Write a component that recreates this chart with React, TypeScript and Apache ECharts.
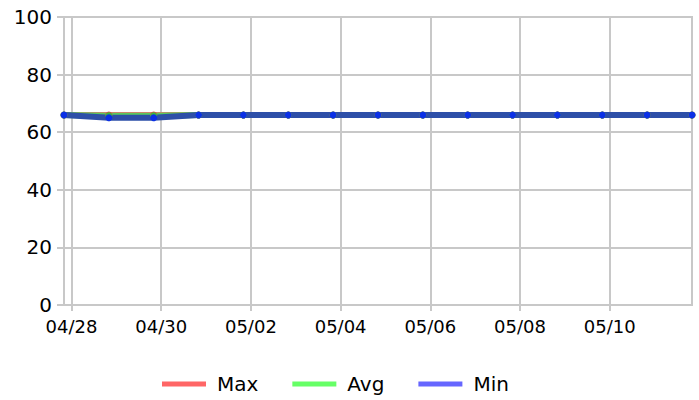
import React, { useEffect, useRef } from "react";
import * as echarts from "echarts";

const times = [
  "2024-04-27T20:00", "2024-04-28T20:00", "2024-04-29T20:00", "2024-04-30T20:00",
  "2024-05-01T20:00", "2024-05-02T20:00", "2024-05-03T20:00", "2024-05-04T20:00",
  "2024-05-05T20:00", "2024-05-06T20:00", "2024-05-07T20:00", "2024-05-08T20:00",
  "2024-05-09T20:00", "2024-05-10T20:00", "2024-05-11T20:00",
];
const maxValues = [66, 66, 66, 66, 66, 66, 66, 66, 66, 66, 66, 66, 66, 66, 66];
const avgValues = [66, 65.7, 65.7, 66, 66, 66, 66, 66, 66, 66, 66, 66, 66, 66, 66];
const minValues = [66, 65, 65, 66, 66, 66, 66, 66, 66, 66, 66, 66, 66, 66, 66];
const tickDates = [
  "2024-04-28T00:00", "2024-04-30T00:00", "2024-05-02T00:00", "2024-05-04T00:00",
  "2024-05-06T00:00", "2024-05-08T00:00", "2024-05-10T00:00",
];
const yTicks = [0, 20, 40, 60, 80, 100];

const FONT = "DejaVu Sans";
const GRID_COLOR = "#c8c8c8";

export default function App() {
  const ref = useRef<HTMLDivElement>(null);
  useEffect(() => {
    if (!ref.current) return;
    const chart = echarts.init(ref.current, undefined, { renderer: "svg" });
    const ts = times.map((t) => new Date(t).getTime());
    const tickTs = tickDates.map((t) => new Date(t).getTime());
    const pad = (n: number) => (n < 10 ? "0" + n : "" + n);
    const mk = (vals: number[]) => ts.map((t, i) => [t, vals[i]]);
    chart.setOption({
      animation: false,
      textStyle: { fontFamily: FONT },
      grid: {
        left: 64,
        right: 7,
        top: 17,
        bottom: 95,
        show: true,
        borderColor: GRID_COLOR,
        borderWidth: 2,
      },
      legend: {
        left: 157,
        top: 369,
        icon: "rect",
        itemWidth: 44,
        itemHeight: 5,
        itemGap: 34,
        textStyle: { fontSize: 20, color: "#000", fontFamily: FONT, padding: [0, 0, 0, 6] },
        data: [
          { name: "Max", itemStyle: { color: "#ff6666" } },
          { name: "Avg", itemStyle: { color: "#66ff66" } },
          { name: "Min", itemStyle: { color: "#6666ff" } },
        ],
      },
      xAxis: {
        type: "value",
        min: ts[0],
        max: ts[ts.length - 1],
        axisLine: { show: true, lineStyle: { color: GRID_COLOR, width: 2 } },
        axisTick: { show: true, length: 6, customValues: tickTs, lineStyle: { color: GRID_COLOR, width: 2 } },
        splitLine: { show: true, lineStyle: { color: GRID_COLOR, width: 2 } },
        axisLabel: {
          customValues: tickTs,
          fontSize: 18,
          color: "#000",
          fontFamily: FONT,
          margin: 12,
          formatter: (v: number) => {
            const d = new Date(v);
            return pad(d.getMonth() + 1) + "/" + pad(d.getDate());
          },
        },
      },
      yAxis: {
        type: "value",
        min: yTicks[0],
        max: yTicks[yTicks.length - 1],
        interval: 20,
        axisLine: { show: true, lineStyle: { color: GRID_COLOR, width: 2 } },
        axisTick: { show: true, length: 7, lineStyle: { color: GRID_COLOR, width: 2 } },
        splitLine: { show: true, lineStyle: { color: GRID_COLOR, width: 2 } },
        axisLabel: { fontSize: 20, color: "#000", fontFamily: FONT, margin: 12 },
      },
      series: [
        {
          name: "Max",
          type: "line",
          data: mk(maxValues),
          symbol: "circle",
          symbolSize: 7,
          itemStyle: { color: "#e24a4a" },
          lineStyle: { color: "#f07070", width: 6 },
        },
        {
          name: "Avg",
          type: "line",
          data: mk(avgValues),
          symbol: "circle",
          symbolSize: 7,
          itemStyle: { color: "#3cb83c" },
          lineStyle: { color: "#5cc85c", width: 6 },
        },
        {
          name: "Min",
          type: "line",
          data: mk(minValues),
          symbol: "circle",
          symbolSize: 7,
          itemStyle: { color: "#0b30e6" },
          lineStyle: { color: "#2d4fa8", width: 6 },
        },
      ],
    });
    return () => chart.dispose();
  }, []);
  return <div ref={ref} style={{ width: 699, height: 400, position: "absolute", left: 0, top: 0 }} />;
}
